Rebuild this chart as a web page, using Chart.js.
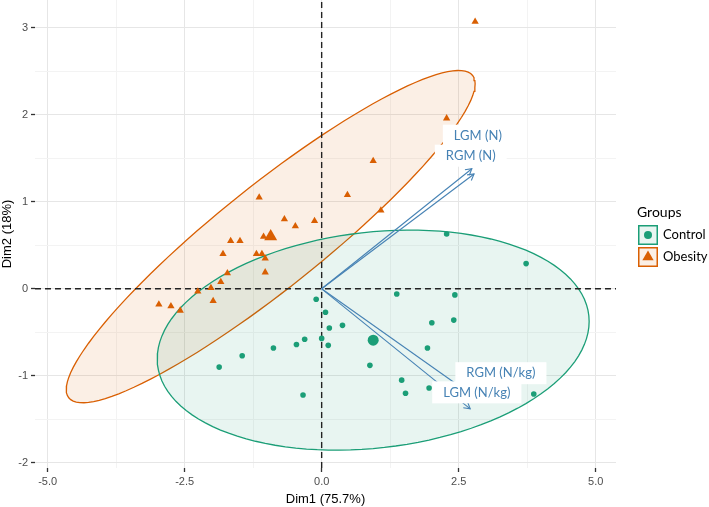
<!DOCTYPE html>
<html lang="en">
<head>
<meta charset="UTF-8">
<title>PCA biplot - Groups</title>
<script src="https://cdn.jsdelivr.net/npm/chart.js"></script>
<style>
  html, body { margin: 0; padding: 0; background: #fff; }
  #wrap { width: 709px; height: 507px; position: relative; }
</style>
</head>
<body>
<div id="wrap"><canvas id="biplot"></canvas></div>
<script>
// axis ranges and labels
const xRange = [-5.23, 5.37];
const yRange = [-2.06, 3.32];
const xTitle = 'Dim1 (75.7%)';
const yTitle = 'Dim2 (18%)';

// individuals
const groups = ['Control', 'Obesity'];
const controlX = [2.28, 3.73, 1.37, 2.43, -0.10, 0.07, 2.01, 2.41, 0.14, 0.38, -0.31, -0.46,
                  0.00, 0.12, 1.93, 0.88, 1.46, 1.53, 1.96, 3.87, -0.34, -0.88, -1.45, -1.87];
const controlY = [0.63, 0.29, -0.06, -0.07, -0.12, -0.27, -0.39, -0.36, -0.45, -0.42, -0.58, -0.64,
                  -0.57, -0.65, -0.68, -0.88, -1.05, -1.20, -1.14, -1.21, -1.22, -0.68, -0.77, -0.90];
const obesityX = [-1.14, -0.68, -0.48, -0.13, -1.66, -1.49, -1.06, -1.80, -1.19, -1.09, -1.03, -1.72, -1.03,
                  -1.84, -2.02, -2.26, -1.98, -2.97, -2.75, -2.58, 2.80, 2.28, 0.94, 0.47, 1.08];
const obesityY = [1.05, 0.80, 0.72, 0.78, 0.55, 0.55, 0.60, 0.40, 0.40, 0.40, 0.35, 0.18, 0.19,
                  0.08, 0.01, -0.03, -0.14, -0.18, -0.20, -0.25, 3.07, 1.96, 1.47, 1.08, 0.90];

// group centres and concentration ellipses (centre, half-range in x and y, correlation)
const centerX = [0.94, -0.93];
const centerY = [-0.59, 0.60];
const ellipseSx = [3.94, 3.73];
const ellipseSy = [1.265, 1.91];
const ellipseR = [0.17, 0.92];

// variables (arrows) and their label positions
const varNames = ['LGM (N)', 'RGM (N)', 'RGM (N/kg)', 'LGM (N/kg)'];
const varX = [2.74, 2.78, 2.85, 2.71];
const varY = [1.38, 1.32, -1.27, -1.38];
const labelX = [2.85, 2.72, 3.27, 2.83];
const labelY = [1.76, 1.53, -0.97, -1.19];

const colors = ['#1B9E77', '#D95F02'];
const fills = ['rgba(27,158,119,0.1)', 'rgba(217,95,2,0.1)'];
const arrowColor = '#4682B4';

function pts(xs, ys) {
    return xs.map((v, i) => ({ x: v, y: ys[i] }));
}

function ellipse(i) {
    const out = [];
    const n = 120;
    const r = ellipseR[i], q = Math.sqrt(1 - r * r);
    for (let k = 0; k <= n; k++) {
        const t = 2 * Math.PI * k / n;
        out.push({
            x: centerX[i] + ellipseSx[i] * Math.cos(t),
            y: centerY[i] + ellipseSy[i] * (r * Math.cos(t) + q * Math.sin(t))
        });
    }
    return out;
}

const isMajor = (v, step) => Math.abs(v / step - Math.round(v / step)) < 1e-6;

const datasets = [
    { label: 'Control mean', data: [{ x: centerX[0], y: centerY[0] }], pointStyle: 'circle',
      pointRadius: 5.5, backgroundColor: colors[0], borderWidth: 0 },
    { label: 'Obesity mean', data: [{ x: centerX[1], y: centerY[1] }], pointStyle: 'triangle',
      pointRadius: 7.5, backgroundColor: colors[1], borderWidth: 0 },
    { label: groups[0], data: pts(controlX, controlY), pointStyle: 'circle',
      pointRadius: 2.8, backgroundColor: colors[0], borderWidth: 0 },
    { label: groups[1], data: pts(obesityX, obesityY), pointStyle: 'triangle',
      pointRadius: 4.2, backgroundColor: colors[1], borderWidth: 0 }
];

varNames.forEach((name, i) => {
    datasets.push({
        label: name, data: [{ x: 0, y: 0 }, { x: varX[i], y: varY[i] }],
        showLine: true, pointRadius: 0, borderColor: arrowColor, borderWidth: 1.1
    });
});

datasets.push(
    { label: 'h0', data: [{ x: xRange[0], y: 0 }, { x: xRange[1], y: 0 }], showLine: true,
      pointRadius: 0, borderColor: '#222', borderWidth: 1.4, borderDash: [6, 4] },
    { label: 'v0', data: [{ x: 0, y: yRange[0] }, { x: 0, y: yRange[1] }], showLine: true,
      pointRadius: 0, borderColor: '#222', borderWidth: 1.4, borderDash: [6, 4] }
);

groups.forEach((g, i) => {
    datasets.push({
        label: g + ' ellipse', data: ellipse(i), showLine: true, pointRadius: 0,
        borderColor: colors[i], borderWidth: 1.3, backgroundColor: fills[i], fill: 'shape', tension: 0
    });
});

const overlay = {
    id: 'overlay',
    afterDatasetsDraw(chart) {
        const { ctx, scales: { x, y } } = chart;
        ctx.save();
        const x0 = x.getPixelForValue(0), y0 = y.getPixelForValue(0);
        ctx.strokeStyle = arrowColor;
        ctx.lineWidth = 1.1;
        varNames.forEach((n, i) => {
            const x1 = x.getPixelForValue(varX[i]), y1 = y.getPixelForValue(varY[i]);
            const a = Math.atan2(y1 - y0, x1 - x0);
            const len = 7;
            ctx.beginPath();
            ctx.moveTo(x1 - len * Math.cos(a - Math.PI / 6), y1 - len * Math.sin(a - Math.PI / 6));
            ctx.lineTo(x1, y1);
            ctx.lineTo(x1 - len * Math.cos(a + Math.PI / 6), y1 - len * Math.sin(a + Math.PI / 6));
            ctx.stroke();
        });
        ctx.font = '13px Lato';
        ctx.textAlign = 'center';
        ctx.textBaseline = 'middle';
        varNames.forEach((n, i) => {
            const px = x.getPixelForValue(labelX[i]), py = y.getPixelForValue(labelY[i]);
            const w = ctx.measureText(n).width + 22, h = 22;
            ctx.fillStyle = '#fff';
            ctx.fillRect(px - w / 2, py - h / 2, w, h);
            ctx.fillStyle = arrowColor;
            ctx.fillText(n, px, py);
        });
        ctx.restore();
    },
    afterDraw(chart) {
        // ggplot style legend on the right
        const ctx = chart.ctx;
        const left = chart.chartArea.right + 22;
        ctx.save();
        ctx.textAlign = 'left';
        ctx.textBaseline = 'middle';
        ctx.fillStyle = '#000';
        ctx.font = '14px Lato';
        ctx.fillText('Groups', left - 1, 212);
        ctx.font = '13px Lato';
        groups.forEach((g, i) => {
            const top = 225 + i * 22;
            ctx.fillStyle = '#fff';
            ctx.fillRect(left, top, 20, 20);
            ctx.fillStyle = fills[i];
            ctx.fillRect(left, top, 20, 20);
            ctx.strokeStyle = colors[i];
            ctx.lineWidth = 1.5;
            ctx.strokeRect(left + 0.75, top + 0.75, 18.5, 18.5);
            ctx.fillStyle = colors[i];
            const cx = left + 10, cy = top + 10;
            ctx.beginPath();
            if (i === 0) {
                ctx.arc(cx, cy, 4, 0, 2 * Math.PI);
            } else {
                const r = 6.5;
                ctx.moveTo(cx, cy - r);
                ctx.lineTo(cx + r * 0.866, cy + r * 0.5);
                ctx.lineTo(cx - r * 0.866, cy + r * 0.5);
                ctx.closePath();
            }
            ctx.fill();
            ctx.fillStyle = '#000';
            ctx.fillText(g, left + 25, cy);
        });
        ctx.restore();
    }
};

Chart.defaults.font.family = "'Liberation Sans', Arial, sans-serif";

new Chart(document.getElementById('biplot'), {
    type: 'scatter',
    data: { datasets: datasets },
    options: {
        responsive: true,
        maintainAspectRatio: false,
        animation: false,
        events: [],
        layout: { autoPadding: false, padding: { left: 0, right: 93, top: 0, bottom: 0 } },
        plugins: { legend: { display: false }, tooltip: { enabled: false } },
        scales: {
            x: {
                type: 'linear', min: xRange[0], max: xRange[1],
                afterFit: s => { s.height = 39; s.paddingLeft = 0; s.paddingRight = 0; },
                border: { display: false },
                ticks: {
                    stepSize: 1.25, includeBounds: false, autoSkip: false, maxRotation: 0,
                    color: '#4D4D4D', font: { size: 11 }, padding: 3,
                    callback: v => isMajor(v, 2.5) ? v.toFixed(1) : ''
                },
                grid: {
                    color: c => isMajor(c.tick.value, 2.5) ? '#E6E6E6' : '#F3F3F3',
                    tickColor: c => isMajor(c.tick.value, 2.5) ? '#333' : 'rgba(0,0,0,0)',
                    tickLength: 4, tickWidth: 1.3, lineWidth: 1
                },
                title: { display: true, text: xTitle, color: '#000', font: { size: 13 }, padding: { top: 0, bottom: 0 } }
            },
            y: {
                type: 'linear', min: yRange[0], max: yRange[1],
                afterFit: s => { s.width = 35; s.paddingTop = 0; s.paddingBottom = 0; },
                border: { display: false },
                ticks: {
                    stepSize: 0.5, includeBounds: false, autoSkip: false,
                    color: '#4D4D4D', font: { size: 11 }, padding: 3,
                    callback: v => isMajor(v, 1) ? String(v) : ''
                },
                grid: {
                    color: c => isMajor(c.tick.value, 1) ? '#E6E6E6' : '#F3F3F3',
                    tickColor: c => isMajor(c.tick.value, 1) ? '#333' : 'rgba(0,0,0,0)',
                    tickLength: 4, tickWidth: 1.3, lineWidth: 1
                },
                title: { display: true, text: yTitle, color: '#000', font: { size: 13 }, padding: { top: 0, bottom: 0 } }
            }
        }
    },
    plugins: [overlay]
});
</script>
</body>
</html>
